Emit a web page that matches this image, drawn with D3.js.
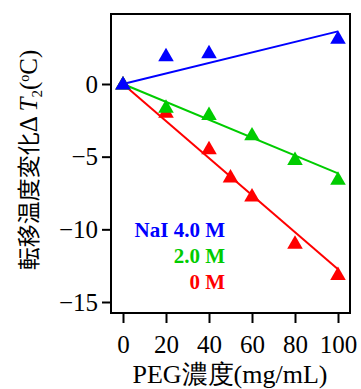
<!DOCTYPE html>
<html>
<head>
<meta charset="utf-8">
<script src="https://cdn.jsdelivr.net/npm/d3@7"></script>
<style>
  body { margin: 0; background: #fff; }
  svg text { font-family: "Liberation Serif", "Times New Roman", serif; }
</style>
</head>
<body>
<div id="chart"></div>
<script>
// data
const peg = [0, 20, 40, 50, 60, 80, 100];
const seriesNames = ["NaI 4.0 M", "2.0 M", "0 M"];
const seriesColors = ["#0000ff", "#00cc00", "#ff0000"];
const blueX = [0, 20, 40, 100];
const blueY = [0, 1.95, 2.15, 3.15];
const greenX = [0, 20, 40, 60, 80, 100];
const greenY = [0, -1.6, -2.1, -3.5, -5.2, -6.55];
const redX = [0, 20, 40, 50, 60, 80, 100];
const redY = [0, -1.95, -4.45, -6.4, -7.7, -10.95, -13.1];
// fitted lines, value at 0 and at 100
const fitX = [0, 100];
const fitBlue = [0, 3.62];
const fitGreen = [0, -6.15];
const fitRed = [0, -12.75];
const xTicks = [0, 20, 40, 60, 80, 100];
const yTicks = [0, -5, -10, -15];

const width = 361, height = 389;
const frame = { left: 111, right: 350, top: 14, bottom: 313 };

const svg = d3.select("#chart").append("svg")
  .attr("width", width)
  .attr("height", height);

const x = d3.scaleLinear().domain([0, 100]).range([123, 338]);
const y = d3.scaleLinear().domain([0, -15]).range([84, 302]);

// frame
svg.append("rect")
  .attr("x", frame.left).attr("y", frame.top)
  .attr("width", frame.right - frame.left).attr("height", frame.bottom - frame.top)
  .attr("fill", "none").attr("stroke", "#000").attr("stroke-width", 2);

// axes
const xAxis = svg.append("g")
  .attr("transform", `translate(0,${frame.bottom})`)
  .call(d3.axisBottom(x).tickValues(xTicks).tickSize(10).tickPadding(12));
xAxis.select(".domain").remove();

const yAxis = svg.append("g")
  .attr("transform", `translate(${frame.left},0)`)
  .call(d3.axisLeft(y).tickValues(yTicks).tickSize(9).tickPadding(4));
yAxis.select(".domain").remove();

svg.selectAll(".tick line").attr("stroke", "#000").attr("stroke-width", 2);
svg.selectAll(".tick text")
  .attr("fill", "#000")
  .style("font-size", "25px")
  .style("font-family", "'Liberation Serif', serif");

// fit lines
const line = d3.line().x(d => x(d[0])).y(d => y(d[1]));
[fitBlue, fitGreen, fitRed].forEach((f, i) => {
  svg.append("path")
    .datum(fitX.map((v, j) => [v, f[j]]))
    .attr("fill", "none")
    .attr("stroke", seriesColors[i])
    .attr("stroke-width", 2)
    .attr("d", line);
});

// markers, drawn red first so blue sits on top at the origin
const tri = d3.symbol().type(d3.symbolTriangle).size(105);
const series = [
  { xs: blueX, ys: blueY },
  { xs: greenX, ys: greenY },
  { xs: redX, ys: redY },
];
[2, 1, 0].forEach(i => {
  const s = series[i];
  svg.append("g").selectAll("path")
    .data(s.xs.map((v, j) => [v, s.ys[j]]))
    .join("path")
    .attr("d", tri)
    .attr("transform", d => `translate(${x(d[0])},${y(d[1]) + 1})`)
    .attr("fill", seriesColors[i]);
});

// legend
seriesNames.forEach((name, i) => {
  svg.append("text")
    .attr("x", 225)
    .attr("y", 237 + i * 26)
    .attr("text-anchor", "end")
    .attr("fill", seriesColors[i])
    .style("font-size", "21px")
    .style("font-weight", "bold")
    .text(name);
});

// x title
svg.append("text")
  .attr("x", 230)
  .attr("y", 383)
  .attr("text-anchor", "middle")
  .style("font-size", "26px")
  .text("PEG濃度(mg/mL)");

// y title
const yt = svg.append("text")
  .attr("transform", "translate(37,160) rotate(-90)")
  .attr("text-anchor", "middle")
  .style("font-size", "25px");
yt.append("tspan").style("font-family", "'Noto Sans CJK JP', sans-serif").style("font-size", "23px").text("転移温度変化");
yt.append("tspan").text("Δ ");
yt.append("tspan").style("font-style", "italic").text("T");
yt.append("tspan").attr("dy", 5).style("font-size", "15px").text("2");
yt.append("tspan").attr("dy", -5).text("(");
yt.append("tspan").attr("dy", -8).style("font-size", "14px").text("o");
yt.append("tspan").attr("dy", 8).text("C)");
</script>
</body>
</html>
